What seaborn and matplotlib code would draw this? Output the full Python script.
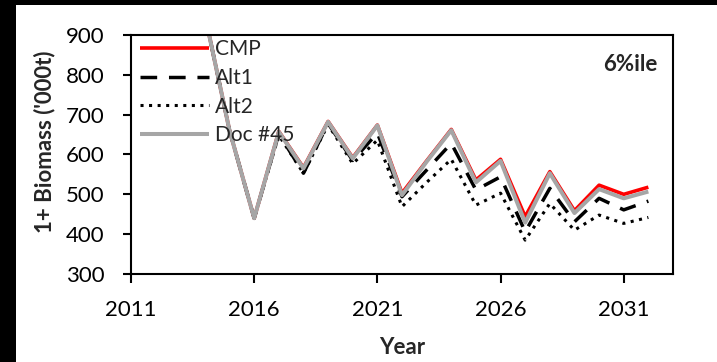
import matplotlib
matplotlib.use("Agg")
import matplotlib.pyplot as plt
from matplotlib.patches import Rectangle
import seaborn as sns
import pandas as pd

# Projected 1+ biomass ('000t), 6th percentile, by management procedure
years = list(range(2014, 2033))
cmp_vals = [950, 660, 440, 658, 567, 683, 592, 674, 503, 584, 663, 536, 588, 444, 557, 459, 523, 500, 518]
alt1_vals = [950, 660, 440, 652, 553, 678, 585, 654, 494, 561, 628, 511, 544, 406, 515, 431, 490, 461, 483]
alt2_vals = [950, 660, 440, 648, 553, 675, 577, 636, 469, 530, 588, 473, 503, 385, 477, 410, 448, 427, 442]
doc45_vals = [950, 660, 440, 657, 565, 682, 590, 673, 498, 582, 661, 530, 584, 429, 553, 453, 513, 490, 507]

series_names = ["CMP", "Alt1", "Alt2", "Doc #45"]
x_ticks = [2011, 2016, 2021, 2026, 2031]
y_ticks = [300, 400, 500, 600, 700, 800, 900]

sns.set_style("white")
plt.rcParams["font.family"] = ["Lato", "DejaVu Sans"]

df = pd.DataFrame({
    "Year": years * 4,
    "Biomass": cmp_vals + alt1_vals + alt2_vals + doc45_vals,
    "Series": [n for n in series_names for _ in years],
})

W, H = 717, 362
fig = plt.figure(figsize=(W / 100, H / 100), dpi=100)
fig.patch.set_facecolor("white")
ax = fig.add_axes([131 / W, 1 - 274 / H, (673 - 131) / W, (274 - 35) / H])

styles = {
    "CMP": dict(color="#ff0000", lw=2.6, dashes=None),
    "Alt1": dict(color="black", lw=2.5, dashes=(4.8, 3.4)),
    "Alt2": dict(color="black", lw=2.2, dashes=(1.0, 1.8)),
    "Doc #45": dict(color="#a6a6a6", lw=2.9, dashes=None),
}

for name in series_names:
    st = styles[name]
    sub = df[df["Series"] == name]
    sns.lineplot(data=sub, x="Year", y="Biomass", ax=ax, color=st["color"],
                 linewidth=st["lw"], estimator=None, sort=False, legend=False)
    line = ax.lines[-1]
    line.set_label(name)
    if st["dashes"] is not None:
        line.set_dashes(st["dashes"])
    line.set_solid_capstyle("butt")

ax.set_xlim(2011, 2033)
ax.set_ylim(300, 900)
ax.set_xticks(x_ticks)
ax.set_yticks(y_ticks)
ax.set_xticklabels([str(t) for t in x_ticks])
ax.set_yticklabels([str(t) for t in y_ticks])

for s in ax.spines.values():
    s.set_visible(True)
    s.set_color("black")
    s.set_linewidth(1.5)

ax.tick_params(axis="x", direction="out", length=6.5, width=1.5, pad=12,
               labelsize=16, colors="black", bottom=True)
ax.tick_params(axis="y", direction="out", length=6, width=1.5, pad=13,
               labelsize=16, colors="black", left=True)

ax.set_xlabel("Year", fontsize=16, fontweight="bold")
ax.set_ylabel("1+ Biomass ('000t)", fontsize=16, fontweight="bold")
ax.xaxis.set_label_coords(0.5, (274 - 348) / 239, transform=ax.transAxes)
ax.yaxis.set_label_coords((45 - 131) / 542, (274 - 142) / 239, transform=ax.transAxes)
ax.xaxis.label.set_va("center")
ax.yaxis.label.set_va("center")

ax.text((657 - 131) / 542, (274 - 65) / 239, "6%ile", transform=ax.transAxes,
        fontsize=16, fontweight="bold", ha="right", va="center")

leg = ax.legend(loc="upper left", bbox_to_anchor=(0.009, 1.0), frameon=False,
                fontsize=15, handlelength=3.3, handletextpad=0.3,
                labelspacing=0.42, borderaxespad=0.1, borderpad=0.1)

# dark border strips along the left and top edges
fig.patches.append(Rectangle((0, 0), 16 / W, 1, transform=fig.transFigure,
                             facecolor="black", edgecolor="none", zorder=10))
fig.patches.append(Rectangle((0, 1 - 5 / H), 1, 5 / H, transform=fig.transFigure,
                             facecolor="black", edgecolor="none", zorder=10))

fig.savefig("out.png", dpi=100, facecolor="white")
